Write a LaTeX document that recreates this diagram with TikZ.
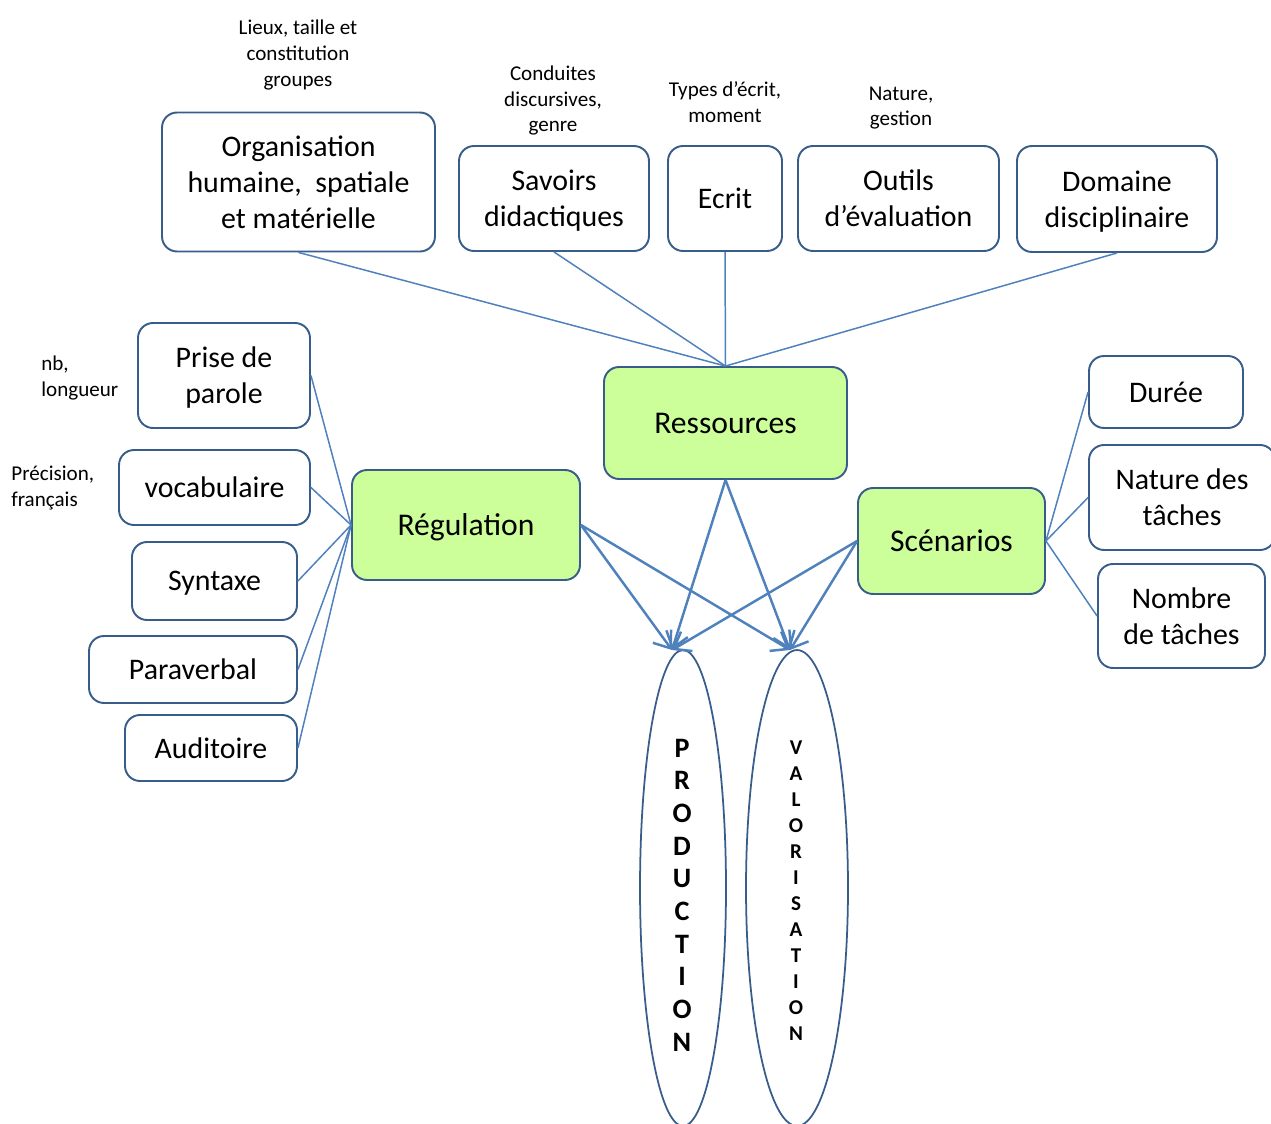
\documentclass[tikz,border=0pt]{standalone}
\usepackage{fontspec}
\setmainfont{Carlito}
\usetikzlibrary{arrows.meta,shapes.geometric}
\definecolor{boxc}{RGB}{56,93,138}
\definecolor{linec}{RGB}{79,129,189}
\definecolor{greenc}{RGB}{204,255,153}
\tikzset{
 box/.style={draw=boxc, line width=1.1pt, rounded corners=0.3cm, align=center, font=\fontsize{17}{20.4}\selectfont, inner sep=0pt, text depth=0pt},
 gbox/.style={box, fill=greenc, font=\fontsize{18}{20.4}\selectfont},
 note/.style={align=center, font=\fontsize{12}{14.7}\selectfont, inner sep=0pt},
 link/.style={draw=linec, line width=0.85pt},
 arr/.style={draw=linec, line width=1.4pt, -{Straight Barb[length=3mm,width=4.5mm,line width=1.4pt]}},
 oval/.style={draw=boxc, line width=1pt, ellipse, inner sep=0pt},
}
\begin{document}
\begin{tikzpicture}[x=0.02cm,y=-0.02cm]
\useasboundingbox (0,0) rectangle (1271,1124);
% top boxes
\node[box, minimum width=5.46cm, minimum height=2.78cm] (org) at (298.5,182) {Organisation\\humaine,\ \ spatiale\\et matérielle};
\node[box, minimum width=3.8cm, minimum height=2.1cm] (sav) at (554,198.5) {Savoirs\\didactiques};
\node[box, minimum width=2.28cm, minimum height=2.1cm] (ecr) at (725,198.5) {Ecrit};
\node[box, minimum width=4.02cm, minimum height=2.1cm] (out) at (898.5,198.5) {Outils\\d’évaluation};
\node[box, minimum width=4.0cm, minimum height=2.12cm] (dom) at (1117,199) {Domaine\\disciplinaire};
% notes
\node[note] (n1) at (298,55) {Lieux, taille et\\constitution\\groupes};
\node[note] (n2) at (553,100.5) {Conduites\\discursives,\\genre};
\node[note] (n3) at (725,102.5) {Types d’écrit,\\moment};
\node[note] (n4) at (901,108) {Nature,\\gestion};
\node[note, align=left, anchor=west] (n5) at (41,378) {nb,\\longueur};
\node[note, align=left, anchor=west] (n6) at (11,488) {Précision,\\français};
% green boxes
\node[gbox, minimum width=4.86cm, minimum height=2.24cm] (res) at (725.5,423) {Ressources};
\node[gbox, minimum width=4.56cm, minimum height=2.2cm] (reg) at (466,525) {Régulation};
\node[gbox, minimum width=3.74cm, minimum height=2.12cm] (sce) at (951.5,541) {Scénarios};
% left boxes
\node[box, minimum width=3.44cm, minimum height=2.1cm] (pri) at (224,375.5) {Prise de\\parole};
\node[box, minimum width=3.82cm, minimum height=1.5cm] (voc) at (214.5,487.5) {vocabulaire};
\node[box, minimum width=3.3cm, minimum height=1.56cm] (syn) at (214.5,581) {Syntaxe};
\node[box, minimum width=4.16cm, minimum height=1.34cm] (par) at (193,669.5) {Paraverbal};
\node[box, minimum width=3.44cm, minimum height=1.32cm] (aud) at (211,748) {Auditoire};
% right boxes
\node[box, minimum width=3.08cm, minimum height=1.44cm] (dur) at (1166,392) {Durée};
\node[box, minimum width=3.72cm, minimum height=2.1cm] (nat) at (1182,497.5) {Nature des\\tâches};
\node[box, minimum width=3.34cm, minimum height=2.08cm] (nom) at (1181.5,616) {Nombre\\de tâches};
% ellipses
\node[oval, minimum width=1.72cm, minimum height=9.52cm] (prod) at (683,888) {};
\node[oval, minimum width=2.04cm, minimum height=9.52cm] (valo) at (797,888) {};
\node[inner sep=0pt, align=center, font=\fontsize{16}{18.6}\selectfont\bfseries] (tprod) at (682,895) {P\\R\\O\\D\\U\\C\\T\\I\\O\\N};
\node[inner sep=0pt, align=center, font=\fontsize{12}{14.8}\selectfont\bfseries] (tvalo) at (796,891) {V\\A\\L\\O\\R\\I\\S\\A\\T\\I\\O\\N};
% connectors
\draw[link] (org.south) -- (res.north);
\draw[link] (sav.south) -- (res.north);
\draw[link] (ecr.south) -- (res.north);
\draw[link] (dom.south) -- (res.north);
\draw[link] (reg.west) -- (pri.east);
\draw[link] (reg.west) -- (voc.east);
\draw[link] (reg.west) -- (syn.east);
\draw[link] (reg.west) -- (par.east);
\draw[link] (reg.west) -- (aud.east);
\draw[link] (sce.east) -- (dur.west);
\draw[link] (sce.east) -- (nat.west);
\draw[link] (sce.east) -- (nom.west);
% arrows
\coordinate (tP) at (672,650);
\coordinate (tV) at (790,650);
\draw[arr] (reg.east) -- (tP);
\draw[arr] (reg.east) -- (tV);
\draw[arr] (res.south) -- (tP);
\draw[arr] (res.south) -- (tV);
\draw[arr] (sce.west) -- (tP);
\draw[arr] (sce.west) -- (tV);
\end{tikzpicture}
\end{document}
